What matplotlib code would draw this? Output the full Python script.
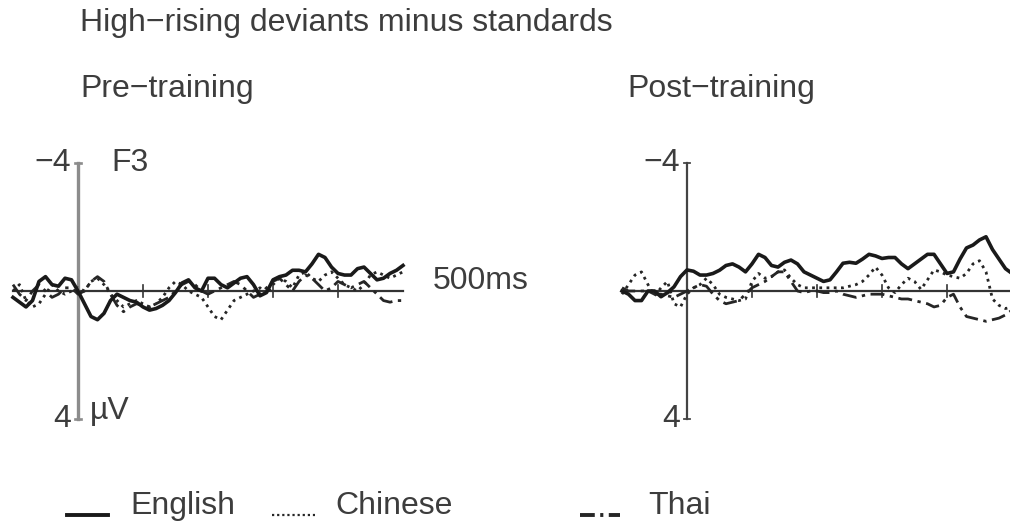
import matplotlib
matplotlib.use("Agg")
import matplotlib.pyplot as plt
import numpy as np

plt.rcParams['font.family'] = ['Liberation Sans', 'DejaVu Sans']

# time axis, ms
t = np.arange(-100, 501, 10)

# amplitudes in microvolts (negative plotted up)
eng_pre = [0.2, 0.35, 0.5, 0.3, -0.3, -0.45, -0.2, -0.15, -0.4, -0.35,
           0.0, 0.4, 0.8, 0.9, 0.7, 0.3, 0.1, 0.2, 0.3, 0.35,
           0.5, 0.6, 0.55, 0.45, 0.3, 0.05, -0.25, -0.35, -0.1, 0.0,
           -0.4, -0.4, -0.2, -0.1, -0.25, -0.4, -0.45, -0.2, 0.15, 0.05,
           -0.35, -0.45, -0.5, -0.65, -0.65, -0.6, -0.85, -1.15, -1.05, -0.75,
           -0.55, -0.5, -0.5, -0.7, -0.75, -0.55, -0.35, -0.4, -0.55, -0.65,
           -0.8]
chi_pre = [0.0, -0.2, 0.3, 0.5, 0.4, 0.1, -0.2, 0.0, 0.1, 0.0,
           -0.1, 0.0, -0.3, -0.4, -0.2, 0.1, 0.3, 0.5, 0.4, 0.3,
           0.4, 0.5, 0.4, 0.2, -0.1, -0.3, -0.2, 0.0, 0.1, 0.2,
           0.5, 0.8, 0.9, 0.6, 0.3, 0.2, 0.1, 0.0, -0.1, 0.1,
           -0.2, -0.4, -0.3, -0.1, -0.5, -0.6, -0.4, -0.3, -0.5, -0.6,
           -0.4, -0.2, -0.1, 0.0, -0.2, -0.5, -0.6, -0.5, -0.4, -0.5,
           -0.6]
thai_pre = [-0.2, 0.1, 0.3, 0.0, -0.2, 0.0, 0.2, 0.1, -0.1, -0.1,
            0.1, 0.0, -0.3, -0.45, -0.3, 0.1, 0.45, 0.65, 0.5, 0.4,
            0.45, 0.5, 0.4, 0.3, 0.2, 0.0, -0.2, -0.3, -0.2, 0.0,
            0.1, 0.0, -0.1, -0.2, -0.3, -0.2, 0.0, 0.2, 0.1, -0.1,
            -0.3, -0.4, -0.2, 0.0, -0.3, -0.5, -0.4, -0.2, 0.0, -0.1,
            -0.3, -0.2, -0.1, -0.2, -0.3, -0.1, 0.1, 0.3, 0.35, 0.3,
            0.3]

eng_post = [0.0, 0.1, 0.3, 0.3, 0.0, 0.0, 0.18, 0.05, -0.13, -0.45,
            -0.66, -0.62, -0.5, -0.5, -0.55, -0.65, -0.8, -0.85, -0.75, -0.6,
            -0.85, -1.15, -1.05, -0.8, -0.75, -0.9, -0.97, -0.85, -0.6, -0.5,
            -0.4, -0.3, -0.35, -0.6, -0.87, -0.9, -0.87, -1.0, -1.15, -1.1,
            -1.02, -1.05, -1.05, -0.85, -0.7, -0.85, -1.0, -1.15, -1.15, -0.85,
            -0.55, -0.6, -1.0, -1.35, -1.44, -1.6, -1.7, -1.3, -1.0, -0.7,
            -0.55]
chi_post = [0.1, -0.2, -0.5, -0.6, -0.2, 0.15, -0.1, -0.3, 0.4, 0.5,
            0.1, -0.1, -0.2, -0.4, -0.2, 0.1, 0.2, 0.25, 0.3, 0.25,
            -0.3, -0.55, -0.4, -0.45, -0.6, -0.66, -0.4, -0.2, -0.1, -0.1,
            -0.1, -0.1, -0.1, -0.1, -0.1, -0.15, -0.2, -0.3, -0.5, -0.75,
            -0.5, -0.1, 0.05, -0.2, -0.4, -0.3, -0.05, -0.35, -0.66, -0.6,
            -0.5, -0.45, -0.4, -0.55, -0.85, -0.95, -0.6, 0.25, 0.45, 0.55,
            0.5]
thai_post = [-0.1, 0.0, 0.0, 0.0, 0.0, 0.1, 0.1, 0.15, 0.2, 0.1,
             0.0, -0.1, -0.2, -0.15, 0.1, 0.3, 0.4, 0.35, 0.3, 0.1,
             -0.1, -0.2, -0.3, -0.45, -0.6, -0.6, -0.3, 0.0, 0.05, 0.0,
             0.0, 0.05, 0.05, 0.0, 0.1, 0.15, 0.2, 0.15, 0.1, 0.1,
             0.1, 0.15, 0.2, 0.25, 0.25, 0.3, 0.35, 0.4, 0.5, 0.45,
             0.2, 0.1, 0.5, 0.8, 0.85, 0.9, 0.95, 0.9, 0.85, 0.75,
             0.6]

yticks = [-4, 4]
xticks = [100, 200, 300, 400]

TXT = '#3d3d3d'
FS = 23
W, H = 1010, 525

fig = plt.figure(figsize=(W / 100, H / 100), dpi=100)

# pixel geometry: 0 ms at x0, 0.65 px per ms; -4..4 uV -> 163..418 px
def panel(x0):
    tmin, tmax = -110, 510
    left = x0 + 0.65 * tmin
    width = 0.65 * (tmax - tmin)
    top, bot = 291 - 4.2 * 31.9, 291 + 4.2 * 31.9
    ax = fig.add_axes([left / W, 1 - bot / H, width / W, (bot - top) / H])
    ax.set_xlim(tmin, tmax)
    ax.set_ylim(4.2, -4.2)
    ax.axis('off')
    return ax

styles = {'eng': dict(color='#1a1a1a', lw=2.6, ls='-'),
          'chi': dict(color='#262626', lw=2.0, ls=(0, (1, 1.6))),
          'thai': dict(color='#262626', lw=2.0, ls=(0, (5, 2, 1.2, 2)))}

for x0, data, axcol, axlw in [(78, (eng_pre, chi_pre, thai_pre), '#8c8c8c', 2.4),
                              (687, (eng_post, chi_post, thai_post), '#444444', 1.6)]:
    ax = panel(x0)
    # baseline and ticks
    ax.plot([-100, 500], [0, 0], color='#333333', lw=1.6, zorder=1)
    for xt in xticks:
        ax.plot([xt, xt], [-0.2, 0.2], color='#333333', lw=1.2, zorder=1)
    # vertical axis
    ax.plot([0, 0], [-4, 4], color=axcol, lw=axlw, zorder=1)
    for yt in yticks:
        ax.plot([-5, 5], [yt, yt], color=axcol, lw=axlw * 0.8, zorder=1)
        lab = '\u22124' if yt < 0 else '4'
        ax.text(-10, yt, lab, ha='right', va='center', fontsize=FS, color=TXT)
    ax.plot(t, data[1], **styles['chi'], zorder=2)
    ax.plot(t, data[2], **styles['thai'], zorder=2, dash_joinstyle='round')
    ax.plot(t, data[0], **styles['eng'], zorder=3, solid_joinstyle='round')
    if x0 == 78:
        ax.text(52, -4, 'F3', ha='left', va='center', fontsize=FS, color=TXT)
        ax.text(18, 3.75, '\u00b5V', ha='left', va='center', fontsize=FS, color=TXT)
        ax.text(546, -0.3, '500ms', ha='left', va='center', fontsize=FS, color=TXT)

# titles and legend in pixel coordinates
lg = fig.add_axes([0, 0, 1, 1])
lg.set_xlim(0, W)
lg.set_ylim(H, 0)
lg.axis('off')
lg.text(80, 23, 'High\u2212rising deviants minus standards', ha='left', va='center',
        fontsize=FS, color=TXT)
lg.text(80, 89, 'Pre\u2212training', ha='left', va='center', fontsize=FS, color=TXT)
lg.text(627, 89, 'Post\u2212training', ha='left', va='center', fontsize=FS, color=TXT)

labels = ['English', 'Chinese', 'Thai']
sample_x = [(67, 108), (272, 315), (580, 620)]
text_x = [130, 335, 648]
legend_styles = [dict(color='#1a1a1a', lw=2.8, ls='-'),
                 dict(color='#262626', lw=1.6, ls=(0, (1, 1.3))),
                 dict(color='#262626', lw=2.8, ls=(0, (3.8, 1.4, 0.8, 1.4)))]
for lab, (a, b), tx, st in zip(labels, sample_x, text_x, legend_styles):
    lg.plot([a, b], [515, 515], **st)
    lg.text(tx, 506, lab, ha='left', va='center', fontsize=FS, color=TXT)

fig.savefig('out.png', dpi=100, facecolor='white')
